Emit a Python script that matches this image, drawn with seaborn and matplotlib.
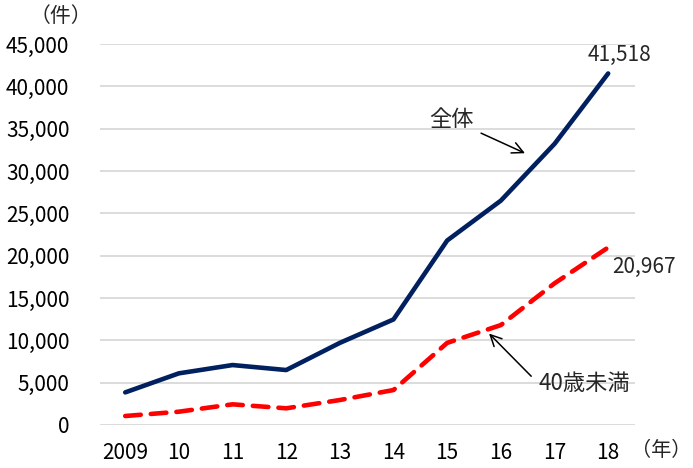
import numpy as np
import pandas as pd
import seaborn as sns
import matplotlib.pyplot as plt

# 件数の推移(全体 / 40歳未満)
years = ['2009', '10', '11', '12', '13', '14', '15', '16', '17', '18']
total = [3850, 6100, 7080, 6490, 9700, 12470, 21790, 26500, 33200, 41518]
under40 = [1060, 1570, 2440, 1970, 2950, 4130, 9700, 11800, 16730, 20967]
yticks = [0, 5000, 10000, 15000, 20000, 25000, 30000, 35000, 40000, 45000]

df = pd.DataFrame({'x': np.arange(len(years)), 'total': total, 'under40': under40})

sns.set_theme(style='white')
plt.rcParams['font.family'] = ['Noto Sans CJK JP', 'DejaVu Sans']

fig = plt.figure(figsize=(6.93, 4.68), dpi=100)
ax = fig.add_axes([0.1443, 0.0919, 0.7720, 0.8141])

for v in yticks:
    ax.axhline(v, color='#d9d9d9', lw=1.3, zorder=0)

sns.lineplot(data=df, x='x', y='total', ax=ax, color='#002060', lw=3.3,
             solid_capstyle='round')
sns.lineplot(data=df, x='x', y='under40', ax=ax, color='#ff0000', lw=3.3,
             dashes=False)
ax.lines[-1].set_dashes([3.4, 2.2])
ax.lines[-1].set_dash_capstyle('round')

ax.set_xlim(-0.47, 9.5)
ax.set_ylim(0, 45000)
ax.set_xticks(df['x'])
ax.set_xticklabels(years)
ax.set_yticks(yticks)
ax.set_yticklabels([f'{v:,}' for v in yticks])
ax.tick_params(axis='both', length=0, labelsize=15, colors='black')
ax.tick_params(axis='x', pad=12)
ax.tick_params(axis='y', pad=22)
ax.set_xlabel('')
ax.set_ylabel('')
for s in ax.spines.values():
    s.set_visible(False)

ax.text(9.22, 43750, f'{total[-1]:,}', fontsize=15, ha='center', va='center')
ax.text(9.08, 18700, f'{under40[-1]:,}', fontsize=15, ha='left', va='center')

ax.annotate('全体', xy=(7.45, 32100), xytext=(6.5, 36050),
            fontsize=16, ha='right', va='center',
            arrowprops=dict(arrowstyle='->', color='black', lw=1.1,
                            shrinkA=3, shrinkB=0, mutation_scale=20))
ax.annotate('40歳未満', xy=(6.78, 10800), xytext=(7.7, 4900),
            fontsize=16, ha='left', va='center',
            arrowprops=dict(arrowstyle='->', color='black', lw=1.1,
                            shrinkA=4, shrinkB=0, mutation_scale=20,
                            relpos=(0, 0.5)))

fig.text(61 / 693, 1 - 16 / 468, '（件）', fontsize=15, ha='center', va='center')
fig.text(691 / 693, 1 - 450 / 468, '（年）', fontsize=14.5, ha='right', va='center')

fig.savefig('out.png', dpi=100)
